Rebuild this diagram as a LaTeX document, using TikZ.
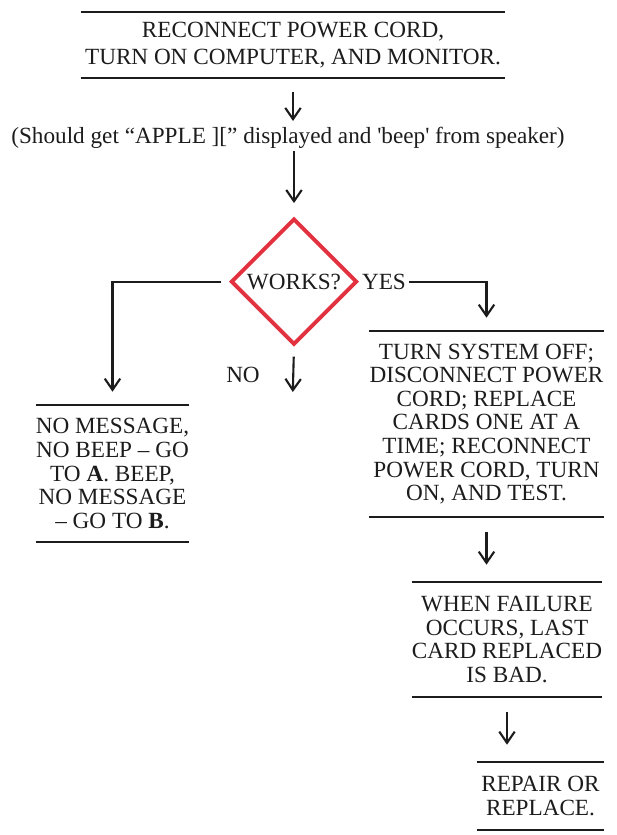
\documentclass[tikz,border=0pt]{standalone}
\usepackage{fontspec}
\setmainfont{Liberation Serif}
\usetikzlibrary{arrows.meta, positioning, shapes.geometric}
\definecolor{ink}{HTML}{1C1C1C}
\definecolor{alarm}{HTML}{E2313F}

\begin{document}
\begin{tikzpicture}[
    every node/.style={font=\fontsize{16.5}{16.8}\selectfont, text=ink},
    panel/.style={align=center, inner sep=0pt, minimum width=#1},
    rule/.style={ink, line width=1.5pt},
    arr/.style={-{Straight Barb[length=8pt, width=11pt]}, line width=1.5pt, color=ink},
    test/.style={
        diamond, draw=alarm, line width=2.8pt, inner sep=0pt,
        minimum width=3.15cm, minimum height=3.15cm,
    },
]
\useasboundingbox (0, 0) rectangle (15.425, 20.875);

% ============================================================ power up
\node[panel=10.6cm, minimum height=1.65cm] (reconnect) at (7.325, 19.75)
    {RECONNECT POWER CORD,\\[2pt] TURN ON COMPUTER, AND MONITOR.};
\node[inner sep=0pt, anchor=base] (note) at (7.2, 17.275)
    {(Should get “APPLE ][” displayed and \textquotesingle beep\textquotesingle{} from speaker)};

% ============================================================ the test
\node[test] (works) at (7.35, 13.834) {WORKS?};
\node[inner sep=0pt, right=2pt of works] (yes) {YES};
\node[inner sep=0pt] (no) at (6.075, 11.5) {NO};
\coordinate (noend) at (7.32, 11.075);

% ============================================================ the outcomes
\node[panel=3.725cm, minimum height=3.425cm] (nomsg) at (2.8125, 9.0375)
    {NO MESSAGE,\\ NO BEEP -- GO\\ TO \textbf{A}. BEEP,\\ NO MESSAGE\\ -- GO TO \textbf{B}.};
\node[panel=5.825cm, minimum height=4.65cm] (turnoff) at (12.1625, 10.275)
    {TURN SYSTEM OFF;\\ DISCONNECT POWER\\ CORD; REPLACE\\ CARDS ONE AT A\\
     TIME; RECONNECT\\ POWER CORD, TURN\\ ON, AND TEST.};
\node[panel=4.75cm, minimum height=2.875cm] (failure) at (12.675, 4.8875)
    {WHEN FAILURE\\ OCCURS, LAST\\ CARD REPLACED\\ IS BAD.};
\node[panel=3.175cm, minimum height=1.7cm] (repair) at (13.5125, 0.975)
    {REPAIR OR\\ REPLACE.};

% rules above and below every step
\foreach \n in {reconnect, nomsg, turnoff, failure, repair}{
    \draw[rule] (\n.north west) -- (\n.north east);
    \draw[rule] (\n.south west) -- (\n.south east);
}

% ============================================================ connectors
\draw[arr, shorten <=0.35cm, shorten >=0.16cm] (reconnect.south) -- (reconnect.south |- note.north);
\draw[arr, shorten <=0.05cm, shorten >=0.34cm] (note.south -| works.north) -- (works.north);
\draw[arr, shorten <=0.2cm, shorten >=0.325cm] (works.west) -| (nomsg.north);
\draw[arr, shorten <=0.08cm, shorten >=0.325cm] (yes.east) -| (turnoff.north);
\draw[arr, shorten <=0.25cm] (works.south) -- (noend);
\draw[arr, shorten <=0.37cm, shorten >=0.425cm] (turnoff.south) -- (turnoff.south |- failure.north);
\draw[arr, shorten <=0.37cm, shorten >=0.425cm] (failure.south) -- (failure.south |- repair.north);

\end{tikzpicture}
\end{document}
